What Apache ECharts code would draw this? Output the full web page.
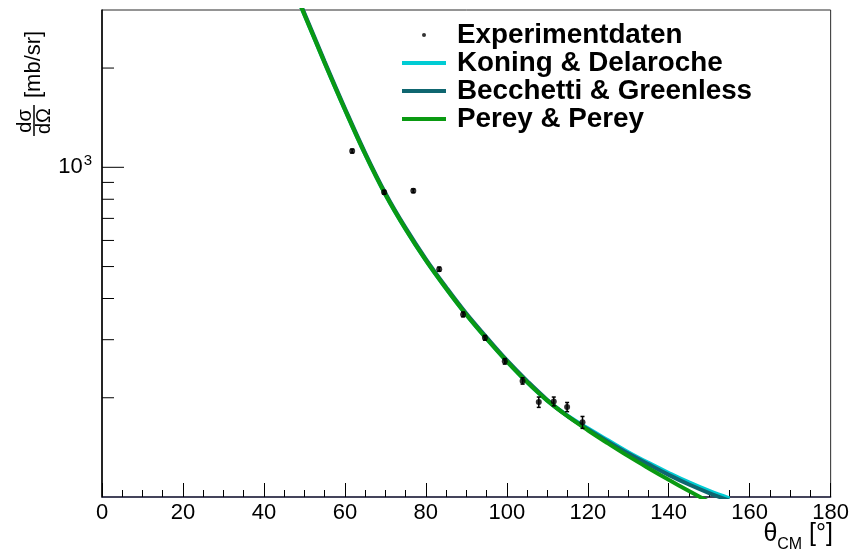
<!DOCTYPE html>
<html>
<head>
<meta charset="utf-8">
<script src="https://cdn.jsdelivr.net/npm/echarts@6/dist/echarts.min.js"></script>
<style>
  html, body { margin: 0; padding: 0; background: #ffffff; }
  #chart { width: 852px; height: 552px; }
</style>
</head>
<body>
<div id="chart"></div>
<script>
const FONT = '"Liberation Sans", Arial, Helvetica, sans-serif';

// Measured angular distribution: θ_CM in degrees, dσ/dΩ and its error in mb/sr
const expTheta = [61.8, 69.7, 76.9, 83.3, 89.2, 94.6, 99.5, 103.9, 107.9, 111.6, 114.9, 118.7];
const expSigma = [1120, 840, 849, 491, 358, 304, 258, 225, 194, 195, 187.5, 168.5];
const expError = [15, 11, 11, 7, 6, 5, 5, 5, 7, 6, 6, 7];

// Optical-model calculations on a common angle grid (degrees)
const calcTheta = [48, 50, 55, 60, 65, 70, 75, 80, 85, 90, 95, 100, 105, 110, 115, 120, 125, 130, 135, 140, 145, 150, 155];
const koning    = [3311, 2904, 2073, 1496, 1096, 827, 649, 522, 429, 357, 302, 258, 223, 196, 176.4, 161.6, 148.6, 136.8, 126.9, 118.3, 110.7, 104.3, 99.0];
const becchetti = [3344, 2933, 2094, 1511, 1107, 835, 655, 527, 433, 360, 305, 260, 225, 197, 176.0, 160.6, 147.2, 135.5, 125.6, 116.7, 109.1, 102.8, 97.5];
const perey     = [3311, 2904, 2073, 1496, 1096, 827, 649, 522, 429, 357, 302, 258, 223, 196, 175.8, 159.4, 145.4, 133.0, 122.3, 112.8, 104.3, 96.6, 89.3];

// Axis ranges and tick values
const thetaRange = [0, 180];
const thetaStep = 20;
const sigmaRange = [100, 3000];
const sigmaMajorTicks = [1000];
const sigmaMinorTicks = [200, 300, 400, 500, 600, 700, 800, 900, 2000];

const seriesNames = ['Experimentdaten', 'Koning & Delaroche', 'Becchetti & Greenless', 'Perey & Perey'];
const colors = { koning: '#00ccd4', becchetti: '#0f6670', perey: '#0a9a12' };

const chart = echarts.init(document.getElementById('chart'), null, { renderer: 'canvas' });

const pairs = (xs, ys) => xs.map((x, i) => [x, ys[i]]);

function curve(name, values, color) {
  return {
    name: name,
    type: 'line',
    data: pairs(calcTheta, values),
    smooth: 0.4,
    symbol: 'none',
    showSymbol: false,
    clip: true,
    lineStyle: { color: color, width: 4 },
    itemStyle: { color: color },
    emphasis: { disabled: true },
    silent: true
  };
}

// inward y-axis ticks placed through the log scale
const yTickData = sigmaMinorTicks.map(v => [thetaRange[0], v, 12])
  .concat(sigmaMajorTicks.map(v => [thetaRange[0], v, 22]));

const option = {
  animation: false,
  backgroundColor: '#ffffff',
  grid: {
    left: 102, right: 19, top: 10, bottom: 55,
    show: true, borderColor: '#2a2a2a', borderWidth: 1, backgroundColor: 'transparent'
  },
  legend: {
    orient: 'vertical',
    left: 402, top: 21,
    padding: 0,
    itemGap: 0,
    itemWidth: 44,
    itemHeight: 4,
    selectedMode: false,
    textStyle: {
      fontFamily: FONT, fontWeight: 'bold', fontSize: 27.8, color: '#000000',
      lineHeight: 27.5, padding: [0, 0, 0, 6]
    },
    data: [
      { name: seriesNames[0], icon: 'circle' },
      { name: seriesNames[1], icon: 'rect' },
      { name: seriesNames[2], icon: 'rect' },
      { name: seriesNames[3], icon: 'rect' }
    ]
  },
  xAxis: {
    type: 'value',
    min: thetaRange[0], max: thetaRange[1], interval: thetaStep,
    axisLine: { show: true, onZero: false, lineStyle: { color: '#2a2a48', width: 1.5 } },
    axisTick: { show: true, inside: true, length: 14, lineStyle: { color: '#000000', width: 1 } },
    minorTick: { show: true, splitNumber: 4, length: 7, lineStyle: { color: '#000000', width: 1 } },
    splitLine: { show: false },
    axisLabel: {
      show: true, showMaxLabel: true, showMinLabel: true, margin: 5,
      fontFamily: FONT, fontSize: 22, color: '#000000'
    }
  },
  yAxis: {
    type: 'log', logBase: 10,
    min: sigmaRange[0], max: sigmaRange[1],
    axisLine: { show: true, lineStyle: { color: '#000000', width: 1.5 } },
    axisTick: { show: false },
    splitLine: { show: false },
    axisLabel: {
      show: true, margin: 10,
      formatter: function (v) {
        return Math.abs(v - 1000) < 1e-6 ? '{b|10}{s|3}' : '';
      },
      rich: {
        b: { fontFamily: FONT, fontSize: 22, color: '#000000' },
        s: { fontFamily: FONT, fontSize: 15, color: '#000000', padding: [0, 0, 12, 1] }
      }
    }
  },
  series: [
    curve(seriesNames[1], koning, colors.koning),
    curve(seriesNames[2], becchetti, colors.becchetti),
    curve(seriesNames[3], perey, colors.perey),
    {
      name: 'Fehlerbalken',
      type: 'custom',
      silent: true,
      z: 4,
      data: expTheta.map((t, i) => [t, expSigma[i], expError[i]]),
      renderItem: function (params, api) {
        const x = api.value(0), y = api.value(1), e = api.value(2);
        const hi = api.coord([x, y + e]);
        const lo = api.coord([x, y - e]);
        const st = { stroke: '#000000', lineWidth: 1.5 };
        return {
          type: 'group',
          children: [
            { type: 'line', shape: { x1: hi[0], y1: hi[1], x2: lo[0], y2: lo[1] }, style: st },
            { type: 'line', shape: { x1: hi[0] - 2, y1: hi[1], x2: hi[0] + 2, y2: hi[1] }, style: st },
            { type: 'line', shape: { x1: lo[0] - 2, y1: lo[1], x2: lo[0] + 2, y2: lo[1] }, style: st }
          ]
        };
      }
    },
    {
      name: seriesNames[0],
      type: 'scatter',
      z: 5,
      data: pairs(expTheta, expSigma),
      symbol: 'circle',
      symbolSize: 6,
      itemStyle: { color: '#000000' },
      emphasis: { disabled: true },
      silent: true
    },
    {
      name: 'yTicks',
      type: 'custom',
      silent: true,
      z: 6,
      data: yTickData,
      renderItem: function (params, api) {
        const p = api.coord([api.value(0), api.value(1)]);
        const len = api.value(2);
        return {
          type: 'line',
          shape: { x1: p[0], y1: p[1], x2: p[0] + len, y2: p[1] },
          style: { stroke: '#000000', lineWidth: 1 }
        };
      }
    }
  ],
  graphic: [
    {
      // y-axis title: dσ/dΩ [mb/sr], rotated to read upward
      type: 'group',
      x: 34, y: 136,
      rotation: Math.PI / 2,
      children: [
        { type: 'text', x: 15, y: -9, style: { text: 'd\u03C3', font: '20px ' + FONT, fill: '#000', align: 'center', verticalAlign: 'middle' } },
        { type: 'line', shape: { x1: 0, y1: 0, x2: 31, y2: 0 }, style: { stroke: '#000', lineWidth: 1.5 } },
        { type: 'text', x: 15, y: 10, style: { text: 'd\u03A9', font: '20px ' + FONT, fill: '#000', align: 'center', verticalAlign: 'middle' } },
        { type: 'text', x: 38, y: 0, style: { text: '[mb/sr]', font: '22px ' + FONT, fill: '#000', align: 'left', verticalAlign: 'middle' } }
      ]
    },
    {
      // x-axis title: θ_CM [°]
      type: 'text',
      right: 19, top: 522,
      style: {
        text: '{t|\u03B8}{s|CM}{t| [\u00B0]}',
        rich: {
          t: { font: '25px ' + FONT, fill: '#000', verticalAlign: 'bottom', lineHeight: 28 },
          s: { font: '16px ' + FONT, fill: '#000', verticalAlign: 'bottom', lineHeight: 20, padding: [0, 0, -6, 0] }
        }
      }
    }
  ]
};

chart.setOption(option);
</script>
</body>
</html>
